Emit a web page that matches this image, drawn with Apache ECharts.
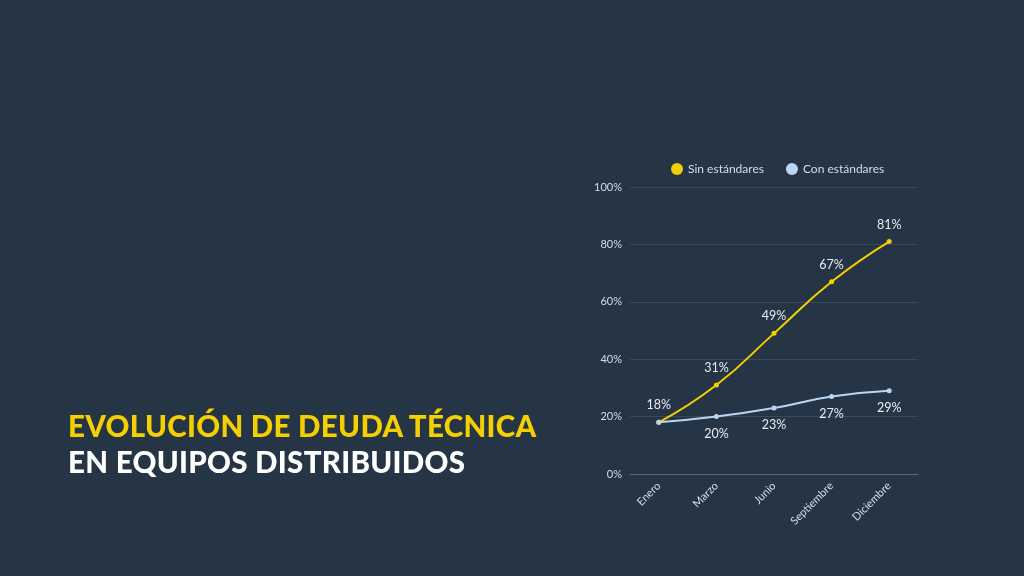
<!DOCTYPE html>
<html><head><meta charset="utf-8">
<script src="https://cdn.jsdelivr.net/npm/echarts@6/dist/echarts.min.js"></script>
<style>
html,body{margin:0;padding:0;background:#253546;}
#chart{width:1024px;height:576px;}
.title{position:absolute;left:68px;top:408px;font-family:Lato,"Noto Sans",sans-serif;font-weight:900;font-size:29.5px;line-height:36px;letter-spacing:0.3px;}
</style></head>
<body>
<div id="chart"></div>
<div class="title"><span style="color:#f5d000">EVOLUCIÓN DE DEUDA TÉCNICA</span><br><span style="color:#ffffff">EN EQUIPOS DISTRIBUIDOS</span></div>
<script>
var months = ['Enero', 'Marzo', 'Junio', 'Septiembre', 'Diciembre'];
var sinEstandares = [18, 31, 49, 67, 81];
var conEstandares = [18, 20, 23, 27, 29];
var yTicks = [0, 20, 40, 60, 80, 100];

var chart = echarts.init(document.getElementById('chart'));
var option = {
    backgroundColor: '#253546',
    textStyle: {fontFamily: 'Lato, "Noto Sans", sans-serif'},
    legend: {
        top: 158, left: 666,
        itemWidth: 12, itemHeight: 12, itemGap: 22,
        icon: 'circle',
        textStyle: {color: '#d8dde3', fontSize: 12},
        data: ['Sin estándares', 'Con estándares']
    },
    grid: {left: 630, right: 106, top: 187, bottom: 102},
    xAxis: {
        type: 'category',
        data: months,
        axisLine: {lineStyle: {color: '#5a6876'}},
        axisTick: {show: false},
        axisLabel: {color: '#d8dde3', fontSize: 11, rotate: 45, margin: 10}
    },
    yAxis: {
        type: 'value', min: yTicks[0], max: yTicks[yTicks.length - 1], interval: 20,
        axisLabel: {color: '#d8dde3', fontSize: 11, formatter: '{value}%'},
        splitLine: {lineStyle: {color: '#3a4a5b'}}
    },
    series: [
        {
            name: 'Sin estándares', type: 'line', smooth: true,
            data: sinEstandares,
            symbol: 'circle', symbolSize: 5,
            itemStyle: {color: '#f5d000'},
            lineStyle: {width: 2},
            label: {show: true, position: 'top', distance: 8, color: '#e8ebef', fontSize: 12.5, formatter: '{c}%'}
        },
        {
            name: 'Con estándares', type: 'line', smooth: true,
            data: conEstandares.map(function (v, i) {
                return i === 0 ? {value: v, label: {show: false}} : v;
            }),
            symbol: 'circle', symbolSize: 5,
            itemStyle: {color: '#bcd6f2'},
            lineStyle: {width: 2},
            label: {show: true, position: 'bottom', distance: 8, color: '#e8ebef', fontSize: 12.5, formatter: '{c}%'}
        }
    ]
};
chart.setOption(option);
</script>
</body></html>
